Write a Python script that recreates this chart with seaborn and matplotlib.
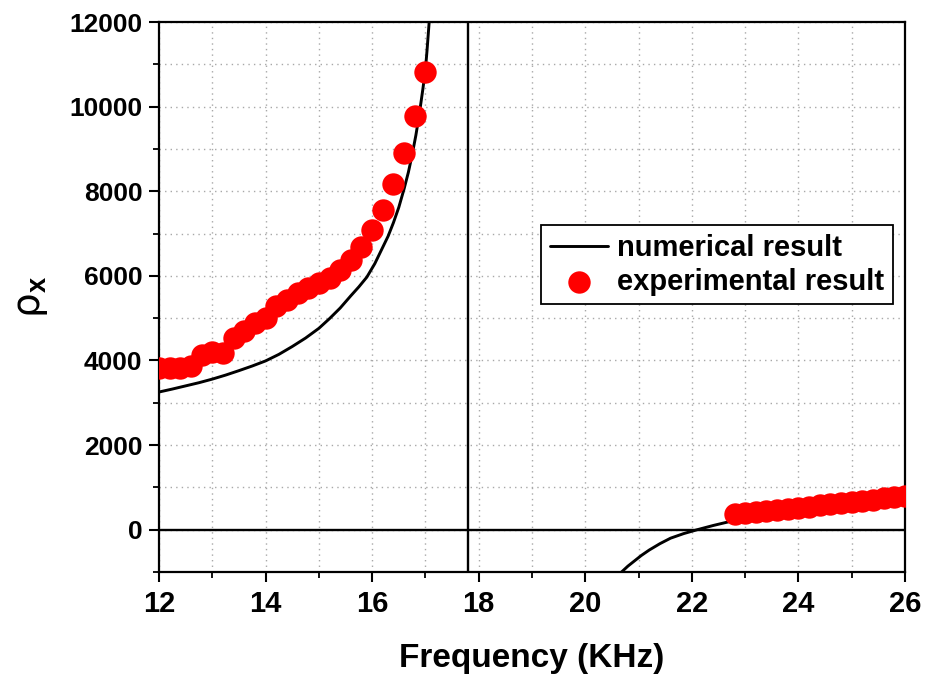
import matplotlib
matplotlib.use("Agg")
import matplotlib.pyplot as plt
from matplotlib.ticker import MultipleLocator
import seaborn as sns

# --- data ---
exp_left_f = [12.0, 12.2, 12.4, 12.6, 12.8, 13.0, 13.2, 13.4, 13.6, 13.8,
              14.0, 14.2, 14.4, 14.6, 14.8, 15.0, 15.2, 15.4, 15.6, 15.8,
              16.0, 16.2, 16.4, 16.6, 16.8, 17.0]
exp_left_rho = [3830, 3830, 3820, 3860, 4130, 4210, 4170, 4530, 4690, 4880,
                5000, 5280, 5430, 5590, 5710, 5830, 5950, 6140, 6380, 6680,
                7090, 7560, 8170, 8900, 9790, 10830]

exp_right_f = [22.8, 23.0, 23.2, 23.4, 23.6, 23.8, 24.0, 24.2, 24.4, 24.6,
               24.8, 25.0, 25.2, 25.4, 25.6, 25.8, 26.0]
exp_right_rho = [360, 385, 410, 440, 465, 490, 520, 545, 575, 600,
                 625, 655, 680, 710, 740, 770, 800]

num_left_f = [12.0, 12.25, 12.5, 12.75, 13.0, 13.25, 13.5, 13.75, 14.0, 14.25,
              14.5, 14.75, 15.0, 15.2, 15.4, 15.6, 15.75, 15.9, 16.05, 16.2,
              16.3, 16.4, 16.5, 16.6, 16.68, 16.75, 16.82, 16.88, 16.95, 17.0,
              17.03, 17.07, 17.12]
num_left_rho = [3255, 3325, 3400, 3475, 3560, 3655, 3760, 3870, 3990, 4145,
                4330, 4530, 4760, 4990, 5240, 5530, 5740, 5970, 6290, 6680,
                6940, 7260, 7620, 8060, 8450, 8860, 9320, 9780, 10400, 10880,
                11330, 12000, 13000]

num_right_f = [20.68, 20.8, 20.9, 21.05, 21.2, 21.4, 21.6, 21.85, 22.1, 22.4,
               22.7, 23.0, 23.4, 24.0, 24.5, 25.0, 25.5, 26.0]
num_right_rho = [-1000, -860, -760, -610, -480, -330, -200, -90, 0, 100,
                 190, 260, 340, 460, 550, 640, 715, 790]

asymptote_f = 17.8
x_ticks = [12, 14, 16, 18, 20, 22, 24, 26]
y_ticks = [0, 2000, 4000, 6000, 8000, 10000, 12000]

# --- style ---
sns.set_style("ticks")
plt.rcParams['font.family'] = ['Liberation Sans', 'DejaVu Sans']
plt.rcParams['font.weight'] = 'bold'
plt.rcParams['mathtext.fontset'] = 'custom'
plt.rcParams['mathtext.rm'] = 'Liberation Sans'
plt.rcParams['mathtext.bf'] = 'Liberation Sans:bold'
plt.rcParams['text.color'] = 'black'
plt.rcParams['axes.labelcolor'] = 'black'
plt.rcParams['xtick.color'] = 'black'
plt.rcParams['ytick.color'] = 'black'

fig = plt.figure(figsize=(9.25, 6.78), dpi=100)
ax = fig.add_axes([0.1719, 0.1563, 0.8065, 0.8112])

sns.lineplot(x=num_left_f, y=num_left_rho, color='black', linewidth=2.1,
             label='numerical result', ax=ax, zorder=3)
sns.lineplot(x=num_right_f, y=num_right_rho, color='black', linewidth=2.1,
             legend=False, ax=ax, zorder=3)
ax.axvline(asymptote_f, color='black', linewidth=1.7, zorder=3)
ax.axhline(0, color='black', linewidth=1.7, zorder=3)

sns.scatterplot(x=exp_left_f, y=exp_left_rho, color='#ff0000', s=260,
                linewidth=0, label='experimental result', ax=ax, zorder=4)
sns.scatterplot(x=exp_right_f, y=exp_right_rho, color='#ff0000', s=260,
                linewidth=0, legend=False, ax=ax, zorder=4)

ax.set_xlim(12, 26)
ax.set_ylim(-1000, 12000)
ax.set_xticks(x_ticks)
ax.set_yticks(y_ticks)
ax.xaxis.set_minor_locator(MultipleLocator(1))
ax.yaxis.set_minor_locator(MultipleLocator(1000))

ax.grid(True, which='both', linestyle=(0, (1, 3)), color='#a8a8a8', linewidth=1.0)
ax.set_axisbelow(True)

for s in ax.spines.values():
    s.set_linewidth(1.6)
    s.set_color('black')

ax.tick_params(which='major', direction='out', length=7, width=1.5,
               top=False, right=False, colors='black')
ax.tick_params(which='minor', direction='out', length=4, width=1.3,
               top=False, right=False, colors='black')
ax.tick_params(axis='x', labelsize=21, pad=6)
ax.tick_params(axis='y', labelsize=19, pad=5)
for lab in ax.get_xticklabels() + ax.get_yticklabels():
    lab.set_fontweight('bold')

ax.set_xlabel('Frequency (KHz)', fontsize=24, fontweight='bold', labelpad=18)
ax.set_ylabel('ρ$_\\mathbf{x}$', fontsize=28, fontweight='normal',
              labelpad=14, family='DejaVu Sans')

leg = ax.legend(loc='upper right', bbox_to_anchor=(0.984, 0.631),
                borderaxespad=0, fontsize=21, frameon=True, fancybox=False,
                edgecolor='black', framealpha=1, handlelength=2.0,
                handletextpad=0.3, labelspacing=0.2, borderpad=0.3,
                markerscale=1.0)
leg.get_frame().set_linewidth(1.3)
for t in leg.get_texts():
    t.set_fontweight('bold')
    t.set_color('black')

fig.savefig('out.png', dpi=100)
